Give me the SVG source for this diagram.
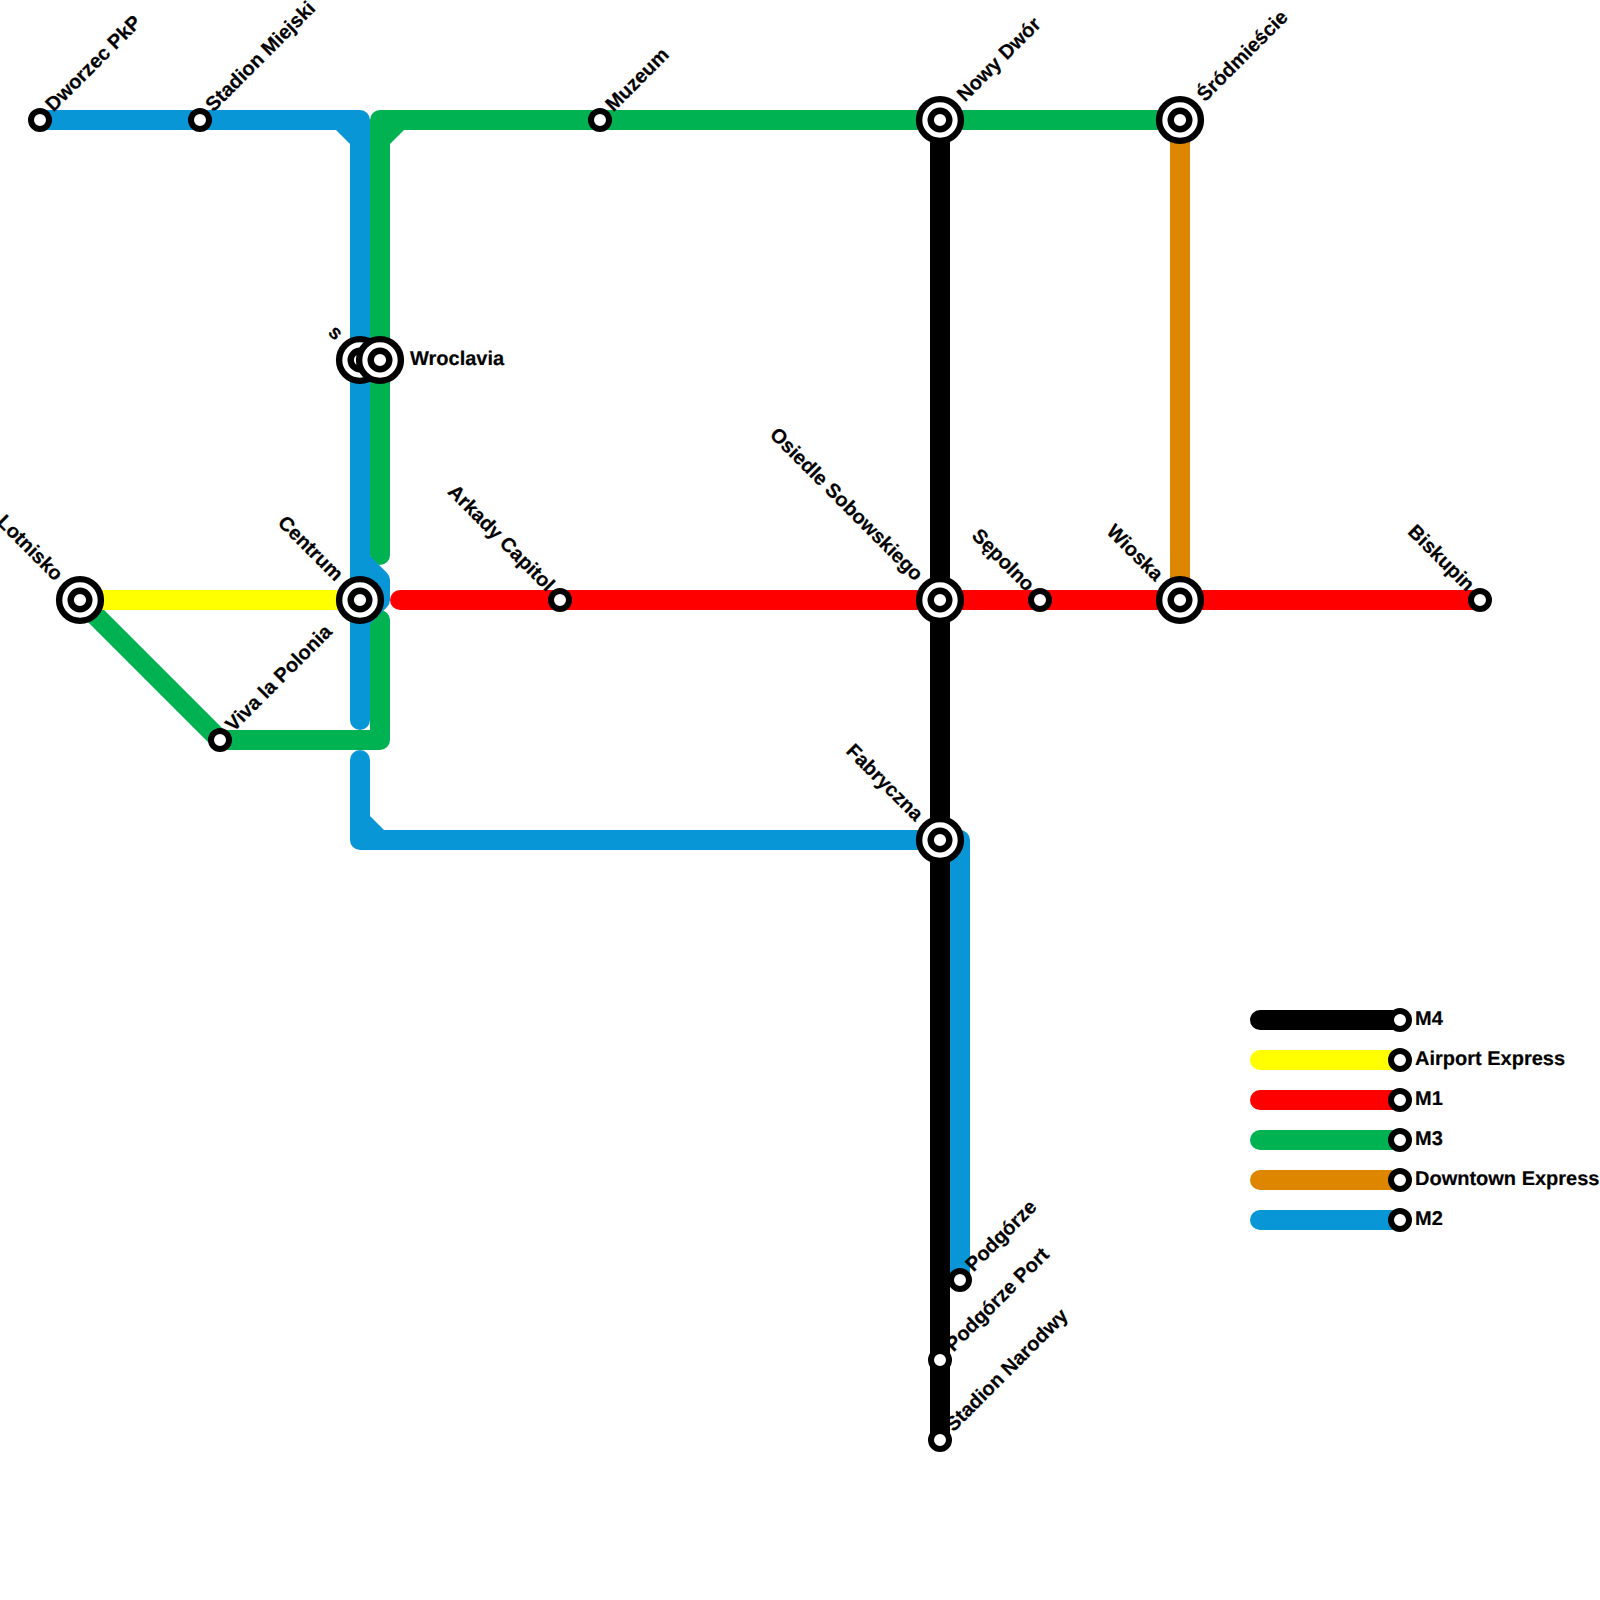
<svg xmlns="http://www.w3.org/2000/svg" width="1600" height="1600" viewBox="0 0 1600 1600">
<style>
.l{fill:none;stroke-width:20;stroke-linecap:round;stroke-linejoin:round}
.k{stroke:#000}.y{stroke:#ff0}.r{stroke:#f00}.g{stroke:#00b251}.o{stroke:#df8600}.b{stroke:#0896d7}
.fg{fill:#00b251}.fb{fill:#0896d7}
.ring{fill:#fff;stroke:#000;stroke-width:6.4}
.s{fill:#fff;stroke:#000;stroke-width:6}
.si{fill:#fff;stroke:#000;stroke-width:6.4}
text{font-family:"Liberation Sans",Arial,sans-serif;font-size:20px;font-weight:700;fill:#000;stroke:#000;stroke-width:.2;text-rendering:geometricPrecision}
.e{text-anchor:end}
</style>
<defs>
<g id="ic"><circle class="ring" r="20.9"/><circle class="si" r="9.3"/></g>
<circle id="st" class="s" r="9"/>
</defs>
<rect width="1600" height="1600" fill="#fff"/>
<g id="connectors">
<path class="l k" d="M1260 1020H1400"/>
<path class="l y" d="M1260 1060H1400"/>
<path class="l r" d="M1260 1100H1400"/>
<path class="l g" d="M1260 1140H1400"/>
<path class="l o" d="M1260 1180H1400"/>
<path class="l b" d="M1260 1220H1400"/>
<path class="l o" d="M1180 120V600"/>
<path class="l g" d="M380 555V120H1180"/>
<path class="fg" d="M404 130H390V144Z"/>
<path class="l g" d="M380 620V740H220L80 600"/>
<path class="l y" d="M80 600H360"/>
<path class="l r" d="M400 600H1480"/>
<path class="l b" d="M40 120H360V560L380 580V600L360 620V720M360 560V620"/>
<path class="fb" d="M336 130H350V144Z"/>
<path class="l b" d="M360 760V840H960V1280"/>
<path class="fb" d="M370 816V830H384Z"/>
<path class="l k" d="M940 120V1440"/>
</g>
<g id="n-dworzec"><use href="#st" x="40" y="120"/><text transform="translate(53.5 112.5) rotate(-45)">Dworzec PkP</text></g>
<g id="n-stadion-miejski"><use href="#st" x="200" y="120"/><text transform="translate(213.5 112.5) rotate(-45)">Stadion Miejski</text></g>
<g id="n-muzeum"><use href="#st" x="600" y="120"/><text transform="translate(613.5 112.5) rotate(-45)">Muzeum</text></g>
<g id="n-nowy-dwor"><use href="#ic" x="940" y="120"/><text transform="translate(965 102.5) rotate(-45)">Nowy Dwór</text></g>
<g id="n-srodmiescie"><use href="#ic" x="1180" y="120"/><text transform="translate(1205 102.5) rotate(-45)">Śródmieście</text></g>
<g id="n-s"><use href="#ic" x="360" y="360"/><text class="e" transform="translate(335 341) rotate(45)">s</text></g>
<g id="n-wroclavia"><use href="#ic" x="380" y="360"/><text x="410" y="365">Wroclavia</text></g>
<g id="n-lotnisko"><use href="#ic" x="80" y="600"/><text class="e" transform="translate(55 582) rotate(45)">Lotnisko</text></g>
<g id="n-centrum"><use href="#ic" x="360" y="600"/><text class="e" transform="translate(335 582) rotate(45)">Centrum</text></g>
<g id="n-viva"><use href="#st" x="220" y="740"/><text transform="translate(233.5 732.5) rotate(-45)">Viva la Polonia</text></g>
<g id="n-arkady"><use href="#st" x="560" y="600"/><text class="e" transform="translate(546.5 592.5) rotate(45)">Arkady Capitol</text></g>
<g id="n-osiedle"><use href="#ic" x="940" y="600"/><text class="e" transform="translate(915 582) rotate(45)">Osiedle Sobowskiego</text></g>
<g id="n-sepolno"><use href="#st" x="1040" y="600"/><text class="e" transform="translate(1026.5 592.5) rotate(45)">Sępolno</text></g>
<g id="n-wioska"><use href="#ic" x="1180" y="600"/><text class="e" transform="translate(1155 582) rotate(45)">Wioska</text></g>
<g id="n-biskupin"><use href="#st" x="1480" y="600"/><text class="e" transform="translate(1466.5 592.5) rotate(45)">Biskupin</text></g>
<g id="n-fabryczna"><use href="#ic" x="940" y="840"/><text class="e" transform="translate(915 822) rotate(45)">Fabryczna</text></g>
<g id="n-podgorze"><use href="#st" x="960" y="1280"/><text transform="translate(973.5 1272.5) rotate(-45)">Podgórze</text></g>
<g id="n-podgorze-port"><use href="#st" x="940" y="1360"/><text transform="translate(953.5 1352.5) rotate(-45)">Podgórze Port</text></g>
<g id="n-stadion-narodwy"><use href="#st" x="940" y="1440"/><text transform="translate(953.5 1432.5) rotate(-45)">Stadion Narodwy</text></g>
<g id="legend-m4"><use href="#st" x="1400" y="1020"/><text x="1415" y="1025">M4</text></g>
<g id="legend-airport"><use href="#st" x="1400" y="1060"/><text x="1415" y="1065">Airport Express</text></g>
<g id="legend-m1"><use href="#st" x="1400" y="1100"/><text x="1415" y="1105">M1</text></g>
<g id="legend-m3"><use href="#st" x="1400" y="1140"/><text x="1415" y="1145">M3</text></g>
<g id="legend-downtown"><use href="#st" x="1400" y="1180"/><text x="1415" y="1185">Downtown Express</text></g>
<g id="legend-m2"><use href="#st" x="1400" y="1220"/><text x="1415" y="1225">M2</text></g>
</svg>
